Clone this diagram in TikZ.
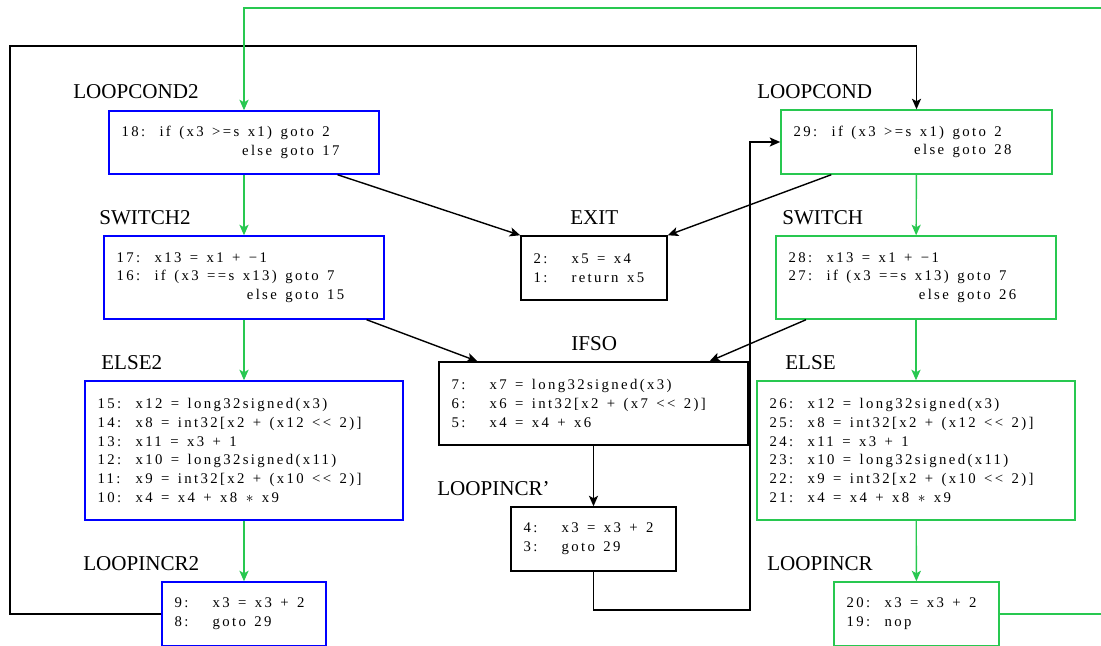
\documentclass[tikz,border=0pt]{standalone}
\usepackage{fontspec}
\setmainfont{Liberation Serif}
\newfontfamily\codefont[LetterSpace=16]{Liberation Serif}
\usetikzlibrary{arrows.meta}
\tikzset{>={Stealth[length=7.5pt,width=6.5pt,inset=1.8pt]}}
\definecolor{cfgblue}{RGB}{0,0,255}
\definecolor{cfggreen}{RGB}{40,200,80}
% in code boxes ~ is a fixed wide gap
\newcommand{\gap}{\hspace{6pt}}
\newcommand{\codestyle}{\codefont\fontsize{10.5}{13.3}\selectfont\let~\gap}
\tikzstyle{block}=[draw,line width=1pt,inner xsep=9pt,inner ysep=0pt,align=left,font=\codestyle]
\tikzstyle{blueblock}=[block,draw=cfgblue]
\tikzstyle{greenblock}=[block,draw=cfggreen]
\tikzstyle{blackblock}=[block,draw=black]
\tikzstyle{greenline}=[draw=cfggreen,line width=1pt]
\tikzstyle{blackline}=[draw=black,line width=1pt]
\tikzstyle{blocklabel}=[anchor=base west,inner sep=0pt,font=\fontsize{15}{18}\selectfont]
\newcommand{\stmt}[2]{\makebox[27pt][l]{#1}#2}

\begin{document}
\begin{tikzpicture}[x=0.025cm,y=-0.025cm]
  \useasboundingbox (0,0) rectangle (1101,646);
  \clip (0,0) rectangle (1101,646);

  % left loop (blue)
  \node[blueblock,text width=6.12cm,minimum height=1.575cm] (lpcond2) at (244,142.5)
    {\stmt{18:}{if~(x3~>=s~x1)~goto~2}\\
     \stmt{}{\phantom{if~(x3~>=s~x1)~}\llap{else~}goto~17}};
  \node[blueblock,text width=6.37cm,minimum height=2.075cm] (switch2) at (244,277.5)
    {\stmt{17:}{x13~=~x1~+~−1}\\
     \stmt{16:}{if~(x3~==s~x13)~goto~7}\\
     \stmt{}{\phantom{if~(x3~==s~x13)~}\llap{else~}goto~15}};
  \node[blueblock,text width=7.32cm,minimum height=3.475cm] (else2) at (244,450.5)
    {\stmt{15:}{x12~=~long32signed(x3)}\\
     \stmt{14:}{x8~=~int32[x2~+~(x12~<<~2)]}\\
     \stmt{13:}{x11~=~x3~+~1}\\
     \stmt{12:}{x10~=~long32signed(x11)}\\
     \stmt{11:}{x9~=~int32[x2~+~(x10~<<~2)]}\\
     \stmt{10:}{x4~=~x4~+~x8~$\ast$~x9}};
  \node[blueblock,text width=3.47cm,minimum height=1.6cm] (lpincr2) at (244,614)
    {\stmt{9:}{x3~=~x3~+~2}\\
     \stmt{8:}{goto~29}};

  % middle
  \node[blackblock,text width=3.02cm,minimum height=1.6cm] (exit) at (594,268)
    {\stmt{2:}{x5~=~x4}\\
     \stmt{1:}{return~x5}};
  \node[blackblock,text width=7.095cm,minimum height=2.075cm] (ifso) at (593.5,403.5)
    {\stmt{7:}{x7~=~long32signed(x3)}\\
     \stmt{6:}{x6~=~int32[x2~+~(x7~<<~2)]}\\
     \stmt{5:}{x4~=~x4~+~x6}};
  \node[blackblock,text width=3.495cm,minimum height=1.6cm] (lpincrp) at (593.5,539)
    {\stmt{4:}{x3~=~x3~+~2}\\
     \stmt{3:}{goto~29}};

  % right loop (green)
  \node[greenblock,text width=6.145cm,minimum height=1.6cm] (lpcond) at (916.5,142)
    {\stmt{29:}{if~(x3~>=s~x1)~goto~2}\\
     \stmt{}{\phantom{if~(x3~>=s~x1)~}\llap{else~}goto~28}};
  \node[greenblock,text width=6.37cm,minimum height=2.075cm] (switch) at (916,277.5)
    {\stmt{28:}{x13~=~x1~+~−1}\\
     \stmt{27:}{if~(x3~==s~x13)~goto~7}\\
     \stmt{}{\phantom{if~(x3~==s~x13)~}\llap{else~}goto~26}};
  \node[greenblock,text width=7.32cm,minimum height=3.475cm] (else) at (916,450.5)
    {\stmt{26:}{x12~=~long32signed(x3)}\\
     \stmt{25:}{x8~=~int32[x2~+~(x12~<<~2)]}\\
     \stmt{24:}{x11~=~x3~+~1}\\
     \stmt{23:}{x10~=~long32signed(x11)}\\
     \stmt{22:}{x9~=~int32[x2~+~(x10~<<~2)]}\\
     \stmt{21:}{x4~=~x4~+~x8~$\ast$~x9}};
  \node[greenblock,text width=3.495cm,minimum height=1.6cm] (lpincr) at (916.5,614)
    {\stmt{20:}{x3~=~x3~+~2}\\
     \stmt{19:}{nop}};

  % labels
  \node[blocklabel] (lpcond2lbl) at (73,98) {LOOPCOND2};
  \node[blocklabel] (switch2lbl) at (99,224) {SWITCH2};
  \node[blocklabel] (else2lbl) at (101,369) {ELSE2};
  \node[blocklabel] (lpincr2lbl) at (83,570) {LOOPINCR2};
  \node[blocklabel] (exitlbl) at (570,224) {EXIT};
  \node[blocklabel] (ifsolbl) at (571,350) {IFSO};
  \node[blocklabel] (lpincrplbl) at (437,495) {LOOPINCR’};
  \node[blocklabel] (lpcondlbl) at (757,98) {LOOPCOND};
  \node[blocklabel] (switchlbl) at (782,224) {SWITCH};
  \node[blocklabel] (elselbl) at (785,369) {ELSE};
  \node[blocklabel] (lpincrlbl) at (767,570) {LOOPINCR};

  % fall-through edges
  \draw[greenline,->] (lpcond2) -- (switch2);
  \draw[greenline,->] (switch2) -- (else2);
  \draw[greenline,->] (else2) -- (lpincr2);
  \draw[greenline,->] (lpcond) -- (switch);
  \draw[greenline,->] (switch) -- (else);
  \draw[greenline,->] (else) -- (lpincr);

  % jumps
  \draw[blackline,->] (lpcond2.-19) -- (exit.north west);
  \draw[blackline,->] (lpcond.201) -- (exit.north east);
  \draw[blackline,->] (switch2.-19.5) -- (ifso.160.8);
  \draw[blackline,->] (switch.201.2) -- (ifso.20.2);
  \draw[blackline,->] (ifso) -- (lpincrp);

  % back edges
  \coordinate (back) at (750,610);
  \draw[blackline,->] (lpincrp.south) |- (back) |- (lpcond.west);
  \draw[blackline,->] (lpincr2.west) -| (10,46) -| (lpcond.north);
  \draw[greenline,->] (lpincr.east) -| (1110,8) -| (lpcond2.north);
\end{tikzpicture}
\end{document}
